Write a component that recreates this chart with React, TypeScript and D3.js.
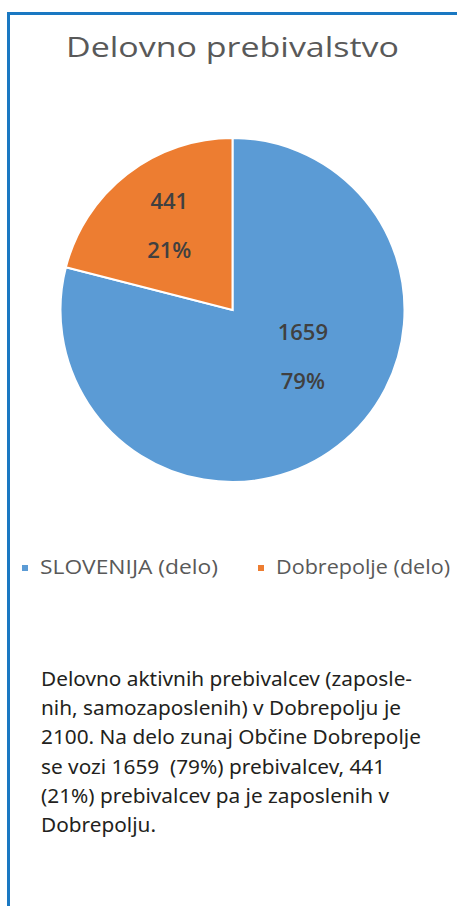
import * as d3 from 'd3';

// Chart data
const categories = ['SLOVENIJA (delo)', 'Dobrepolje (delo)'];
const values = [1659, 441];
const colors = ['#5b9bd5', '#ed7d31'];
const title = 'Delovno prebivalstvo';

const noteLines = [
  'Delovno aktivnih prebivalcev (zaposle-',
  'nih, samozaposlenih) v Dobrepolju je',
  '2100. Na delo zunaj Občine Dobrepolje',
  'se vozi 1659  (79%) prebivalcev, 441',
  '(21%) prebivalcev pa je zaposlenih v',
  'Dobrepolju.',
];

const W = 457;
const H = 906;
const cx = 232.5;
const cy = 310;
const R = 172;

export default function App() {
  const total = d3.sum(values);
  const pie = d3.pie<number>().sort(null).value((d) => d);
  const arcs = pie(values);
  const arc = d3.arc<d3.PieArcDatum<number>>().innerRadius(0).outerRadius(R);

  // Excel-like "best fit" label placement: big slice label sits a bit nearer the start
  const labelPos = (d: d3.PieArcDatum<number>) => {
    const big = d.endAngle - d.startAngle > Math.PI;
    const t = big ? 0.44 : 0.5;
    const r = big ? 0.5 * R : 0.6 * R;
    const a = d.startAngle + (d.endAngle - d.startAngle) * t;
    return [Math.sin(a) * r, -Math.cos(a) * r];
  };

  const fmtPct = d3.format('.0%');
  const legendX = [22, 258];
  const legendW = [178, 174];

  return (
    <svg
      width={W}
      height={H}
      style={{ position: 'absolute', left: 0, top: 0, background: '#fff' }}
    >
      {/* frame */}
      <line x1={8.5} y1={12} x2={8.5} y2={H} stroke="#1a78c2" strokeWidth={3} />
      <line x1={7} y1={13.5} x2={W} y2={13.5} stroke="#1a78c2" strokeWidth={3} />

      <text
        x={cx}
        y={57}
        textAnchor="middle"
        fontFamily="'Open Sans', sans-serif"
        fontSize={28}
        fill="#595959"
        textLength={333}
        lengthAdjust="spacingAndGlyphs"
      >
        {title}
      </text>

      <g transform={`translate(${cx},${cy})`}>
        {arcs.map((d, i) => (
          <path key={i} d={arc(d) || ''} fill={colors[i]} stroke="#fff" strokeWidth={2} />
        ))}
        {arcs.map((d, i) => {
          const [x, y] = labelPos(d);
          return (
            <text
              key={'l' + i}
              textAnchor="middle"
              fontFamily="'Open Sans', sans-serif"
              fontSize={22}
              fontWeight={600}
              fill="#404040"
            >
              <tspan x={x} y={y - 19}>{values[i]}</tspan>
              <tspan x={x} y={y + 30}>{fmtPct(values[i] / total)}</tspan>
            </text>
          );
        })}
      </g>

      {/* legend */}
      {categories.map((c, i) => (
        <g key={c} transform={`translate(${legendX[i]},565)`}>
          <rect width={6} height={6} fill={colors[i]} />
          <text
            x={18}
            y={9}
            fontFamily="'Open Sans', sans-serif"
            fontSize={20}
            fill="#595959"
            textLength={legendW[i]}
            lengthAdjust="spacingAndGlyphs"
          >
            {c}
          </text>
        </g>
      ))}

      {/* note */}
      <text
        fontFamily="'Noto Sans', sans-serif"
        fontSize={20.8}
        fill="#231f20"
        style={{ whiteSpace: 'pre' }}
      >
        {noteLines.map((l, i) => (
          <tspan key={i} x={41} y={686 + i * 29.2}>
            {l}
          </tspan>
        ))}
      </text>
    </svg>
  );
}
